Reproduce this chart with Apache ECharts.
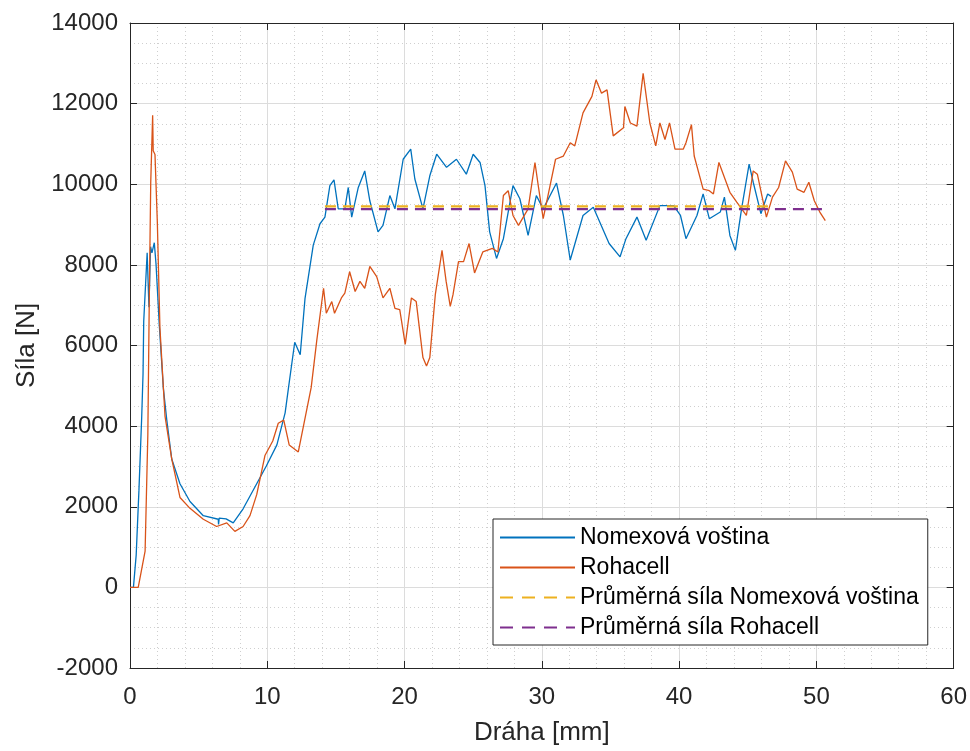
<!DOCTYPE html>
<html>
<head>
<meta charset="utf-8">
<script src="https://cdn.jsdelivr.net/npm/echarts@6/dist/echarts.min.js"></script>
<style>
  html, body { margin: 0; padding: 0; background: #fff; }
  #chart { width: 970px; height: 751px; }
</style>
</head>
<body>
<div id="chart"></div>
<script>
// Nomexová voština – dráha [mm] / síla [N]
var nomexDraha = [0, 0.25, 0.45, 0.65, 0.85, 0.95, 1.0, 1.25, 1.38, 1.5, 1.6, 1.77, 1.9, 2.13, 2.43, 2.68, 3.04, 3.64, 4.37, 5.34, 6.43, 6.45, 6.5, 7.0, 7.52, 8.24, 9.23, 9.93, 10.7, 11.3, 11.55, 12.0, 12.4, 12.75, 13.35, 13.84, 14.2, 14.56, 14.86, 15.17, 15.65, 15.9, 16.15, 16.63, 17.1, 17.47, 18.07, 18.43, 18.93, 19.3, 19.9, 20.45, 20.75, 21.34, 21.84, 22.34, 23.06, 23.78, 24.5, 25.0, 25.5, 25.86, 26.2, 26.7, 27.2, 27.9, 28.4, 29.0, 29.6, 30.1, 31.07, 31.57, 32.07, 33.0, 33.75, 34.9, 35.7, 36.13, 36.93, 37.6, 38.6, 39.6, 40.1, 40.5, 41.3, 41.75, 42.2, 43.0, 43.3, 43.7, 44.1, 44.55, 45.1, 45.4, 45.96, 46.45, 46.7];
var nomexSila = [0, 0, 800, 2400, 4200, 5300, 6600, 8300, 6950, 8450, 8300, 8550, 8000, 6530, 4940, 4150, 3185, 2570, 2130, 1777, 1690, 1560, 1720, 1700, 1600, 1950, 2570, 3010, 3535, 4330, 4960, 6080, 5770, 7170, 8490, 9020, 9185, 9965, 10110, 9390, 9390, 9920, 9185, 9920, 10330, 9590, 8820, 8980, 9720, 9390, 10620, 10870, 10130, 9390, 10210, 10745, 10420, 10620, 10250, 10745, 10540, 9965, 8820, 8160, 8650, 9965, 9640, 8730, 9720, 9390, 10030, 9225, 8120, 9225, 9430, 8530, 8200, 8650, 9185, 8610, 9470, 9470, 9225, 8650, 9225, 9760, 9145, 9310, 9680, 8730, 8360, 9390, 10500, 10050, 9270, 9760, 9700];

// Rohacell – dráha [mm] / síla [N]
var rohaDraha = [0, 0.6, 1.1, 1.3, 1.41, 1.51, 1.65, 1.69, 1.82, 1.99, 2.18, 2.55, 3.04, 3.64, 4.37, 5.34, 6.31, 7.05, 7.64, 8.24, 8.74, 9.23, 9.83, 10.4, 10.8, 11.2, 11.6, 12.26, 13.2, 13.6, 14.1, 14.3, 14.7, 14.9, 15.4, 15.65, 16.0, 16.4, 16.75, 17.1, 17.47, 17.97, 18.43, 18.93, 19.3, 19.65, 20.05, 20.5, 20.85, 21.34, 21.6, 21.84, 22.24, 22.73, 23.03, 23.33, 23.53, 23.93, 24.3, 24.7, 25.1, 25.7, 26.4, 26.8, 27.2, 27.55, 27.9, 28.3, 29.0, 29.5, 29.74, 30.1, 30.6, 31.0, 31.57, 32.07, 32.4, 33.0, 33.65, 33.95, 34.35, 34.75, 35.2, 35.95, 36.05, 36.45, 36.93, 37.38, 37.87, 38.3, 38.6, 38.97, 39.3, 39.7, 40.3, 40.5, 40.9, 41.1, 41.75, 42.2, 42.5, 42.9, 43.7, 44.2, 44.9, 45.4, 45.7, 46.36, 46.8, 47.25, 47.75, 48.25, 48.6, 49.1, 49.45, 49.85, 50.25, 50.65];
var rohaSila = [0, 0, 900, 3800, 7330, 10040, 11710, 10830, 10740, 9070, 6440, 4250, 3190, 2230, 1960, 1690, 1510, 1600, 1390, 1510, 1780, 2300, 3270, 3630, 4070, 4150, 3530, 3360, 4960, 6110, 7420, 6800, 7090, 6800, 7180, 7300, 7830, 7340, 7590, 7420, 7960, 7710, 7180, 7420, 6920, 6890, 6030, 7180, 7090, 5700, 5490, 5700, 7260, 8360, 7590, 6970, 7260, 8080, 8080, 8530, 7800, 8320, 8410, 8320, 9720, 9840, 9225, 8980, 9390, 10540, 9965, 9145, 9965, 10620, 10700, 11030, 10950, 11770, 12180, 12590, 12260, 12340, 11200, 11400, 11930, 11520, 11440, 12750, 11520, 10950, 11520, 11110, 11520, 10870, 10870, 11030, 11480, 10700, 9880, 9840, 9760, 10540, 9800, 9555, 9225, 10330, 10250, 9185, 9680, 9920, 10580, 10300, 9880, 9800, 10050, 9590, 9310, 9100];

// průměrné síly (začátek a konec úseku)
var prumerNomexDraha = [14.2, 46.8];
var prumerNomexSila = [9450, 9450];
var prumerRohaDraha = [14.2, 50.6];
var prumerRohaSila = [9385, 9385];

var xTicks = [0, 60, 10];      // min, max, interval
var yTicks = [-2000, 14000, 2000];

function zip(xs, ys) {
  return xs.map(function (x, i) { return [x, ys[i]]; });
}

var chart = echarts.init(document.getElementById("chart"), null, { renderer: "canvas" });
var FONT = "Liberation Sans";
var AXIS = "#262626";

// legend samples: plain line and dashed line (no marker)
var ICON_SOLID = "path://M0,0h75v2h-75z";
var ICON_DASH = "path://M0,0h13v2h-13z M22,0h13v2h-13z M44,0h13v2h-13z M66,0h9v2h-9z";

var baseX = {
  type: "value",
  min: xTicks[0],
  max: xTicks[1],
  interval: xTicks[2],
  axisLine: { show: true, onZero: false, lineStyle: { color: AXIS, width: 1 } },
  axisTick: { show: true, inside: true, length: 7, lineStyle: { color: AXIS } }
};
var baseY = {
  type: "value",
  min: yTicks[0],
  max: yTicks[1],
  interval: yTicks[2],
  axisLine: { show: true, onZero: false, lineStyle: { color: AXIS, width: 1 } },
  axisTick: { show: true, inside: true, length: 7, lineStyle: { color: AXIS } }
};

var option = {
  animation: false,
  backgroundColor: "#fff",
  grid: { left: 130, right: 16, top: 23, bottom: 80 },
  xAxis: [
    Object.assign({}, baseX, {
      position: "bottom",
      name: "Dráha [mm]",
      nameLocation: "middle",
      nameGap: 52,
      nameTextStyle: { fontFamily: FONT, fontSize: 26, color: AXIS },
      axisLabel: { fontFamily: FONT, fontSize: 24, color: AXIS, margin: 17 },
      splitLine: { show: true, lineStyle: { color: "#dcdcdc", width: 1 } },
      minorTick: { show: false, splitNumber: 5 },
      minorSplitLine: { show: true, lineStyle: { color: "#cfcfcf", width: 1, type: [1, 3] } }
    }),
    Object.assign({}, baseX, {
      position: "top",
      axisLabel: { show: false },
      splitLine: { show: false }
    })
  ],
  yAxis: [
    Object.assign({}, baseY, {
      position: "left",
      name: "Síla [N]",
      nameLocation: "middle",
      nameGap: 90,
      nameRotate: 90,
      nameTextStyle: { fontFamily: FONT, fontSize: 26, color: AXIS },
      axisLabel: {
        fontFamily: FONT, fontSize: 24, color: AXIS, margin: 12,
        formatter: function (v) { return String(v); }
      },
      splitLine: { show: true, lineStyle: { color: "#dcdcdc", width: 1 } },
      minorTick: { show: false, splitNumber: 4 },
      minorSplitLine: { show: true, lineStyle: { color: "#cfcfcf", width: 1, type: [1, 3] } }
    }),
    Object.assign({}, baseY, {
      position: "right",
      axisLabel: { show: false },
      splitLine: { show: false }
    })
  ],
  legend: {
    orient: "vertical",
    left: 493,
    top: 519,
    padding: [7, 9, 6, 7],
    itemWidth: 75,
    itemHeight: 2.5,
    itemGap: 7,
    backgroundColor: "#fff",
    borderColor: AXIS,
    borderWidth: 1,
    borderRadius: 0,
    textStyle: { fontFamily: FONT, fontSize: 23, color: "#000", lineHeight: 23 },
    data: [
      { name: "Nomexová voština", icon: ICON_SOLID, itemStyle: { color: "#0072BD" } },
      { name: "Rohacell", icon: ICON_SOLID, itemStyle: { color: "#D95319" } },
      { name: "Průměrná síla Nomexová voština", icon: ICON_DASH, itemStyle: { color: "#EDB120" } },
      { name: "Průměrná síla Rohacell", icon: ICON_DASH, itemStyle: { color: "#7E2F8E" } }
    ]
  },
  series: [
    {
      name: "Nomexová voština",
      type: "line",
      data: zip(nomexDraha, nomexSila),
      symbol: "none",
      lineStyle: { color: "#0072BD", width: 1.3 },
      itemStyle: { color: "#0072BD" },
      z: 3
    },
    {
      name: "Rohacell",
      type: "line",
      data: zip(rohaDraha, rohaSila),
      symbol: "none",
      lineStyle: { color: "#D95319", width: 1.3 },
      itemStyle: { color: "#D95319" },
      z: 4
    },
    {
      name: "Průměrná síla Nomexová voština",
      type: "line",
      data: zip(prumerNomexDraha, prumerNomexSila),
      symbol: "none",
      lineStyle: { color: "#EDB120", width: 2.2, type: [11, 7] },
      itemStyle: { color: "#EDB120" },
      z: 5
    },
    {
      name: "Průměrná síla Rohacell",
      type: "line",
      data: zip(prumerRohaDraha, prumerRohaSila),
      symbol: "none",
      lineStyle: { color: "#7E2F8E", width: 2.2, type: [11, 7] },
      itemStyle: { color: "#7E2F8E" },
      z: 6
    }
  ]
};

chart.setOption(option);
</script>
</body>
</html>
